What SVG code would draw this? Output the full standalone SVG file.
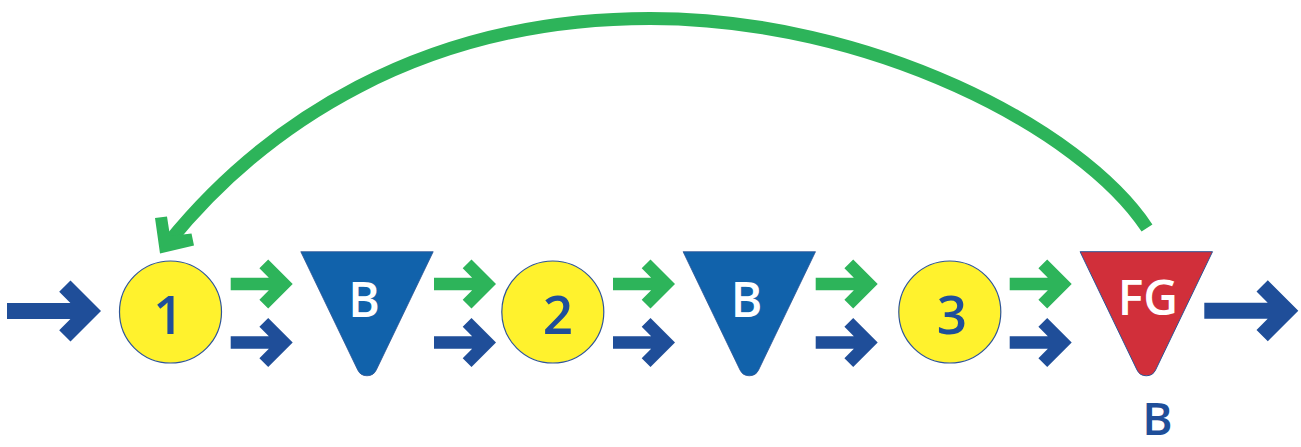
<svg xmlns="http://www.w3.org/2000/svg" width="1301" height="447" viewBox="0 0 1301 447">
<defs>
<style>
.circ{fill:#FFF22D;stroke:#2F5597;stroke-width:1.2}
.tri-b{fill:#1162AB;stroke:#2F5597;stroke-width:0.8}
.tri-fg{fill:#D12F3A;stroke:#2F5597;stroke-width:1}
.num{font-family:"Open Sans","Liberation Sans",sans-serif;font-weight:600;font-size:53px;fill:#1F4E99;text-anchor:middle}
.lbl{font-family:"Open Sans","Liberation Sans",sans-serif;font-weight:600;font-size:48px;fill:#FFFFFF;text-anchor:middle}
.lbl-out{font-family:"Open Sans","Liberation Sans",sans-serif;font-weight:600;font-size:46px;fill:#1F4E99;text-anchor:middle}
.g{fill:#2DB45A}
.bl{fill:#1F4E99}
</style>
<path id="tri" d="M-66.2,0 H66.2 L9.3,118.2 A10.3,10.3 0 0 1 -9.3,118.2 Z"/>
<polygon id="sa" points="0,0 -24.5,-24.5 -33.3,-15.7 -23.85,-6.25 -62,-6.25 -62,6.25 -23.85,6.25 -33.3,15.7 -24.5,24.5"/>
<polygon id="ba" points="0,0 -30.5,-30.5 -41.8,-19.2 -30.6,-8 -94,-8 -94,8 -30.6,8 -41.8,19.2 -30.5,30.5"/>
</defs>
<rect width="1301" height="447" fill="#FFFFFF"/>
<g id="connectors">
<use href="#ba" class="bl" x="101" y="311"/>
<use href="#sa" class="g" x="292.7" y="284"/>
<use href="#sa" class="bl" x="292.7" y="342.5"/>
<use href="#sa" class="g" x="496" y="284"/>
<use href="#sa" class="bl" x="496" y="342.5"/>
<use href="#sa" class="g" x="675" y="284"/>
<use href="#sa" class="bl" x="675" y="342.5"/>
<use href="#sa" class="g" x="877.7" y="284"/>
<use href="#sa" class="bl" x="877.7" y="342.5"/>
<use href="#sa" class="g" x="1071.7" y="284"/>
<use href="#sa" class="bl" x="1071.7" y="342.5"/>
<use href="#ba" class="bl" x="1298.3" y="310.8"/>
<path d="M1147,228 C1081,128.4 870,18.5 650,18.5 C420,18.5 262.5,126 168,243" fill="none" stroke="#2DB45A" stroke-width="13"/>
<polygon class="g" points="155,218 167,216.5 170,236 191.5,233.5 194,245.5 160,253.5"/>
</g>
<g id="n1">
<circle class="circ" cx="170.5" cy="312" r="51"/>
<text class="num" x="168.5" y="334">1</text>
</g>
<g id="b1">
<use href="#tri" class="tri-b" x="367" y="251.7"/>
<text class="lbl" x="364" y="316.7">B</text>
</g>
<g id="n2">
<circle class="circ" cx="552.8" cy="312" r="51"/>
<text class="num" x="558" y="334">2</text>
</g>
<g id="b2">
<use href="#tri" class="tri-b" x="749.3" y="251.7"/>
<text class="lbl" x="746.5" y="316.7">B</text>
</g>
<g id="n3">
<circle class="circ" cx="949.8" cy="312" r="51"/>
<text class="num" x="952" y="334">3</text>
</g>
<g id="fg">
<use href="#tri" class="tri-fg" x="1146.3" y="251.7"/>
<text class="lbl" x="1148" y="315">FG</text>
<text class="lbl-out" x="1157.5" y="435">B</text>
</g>
</svg>
